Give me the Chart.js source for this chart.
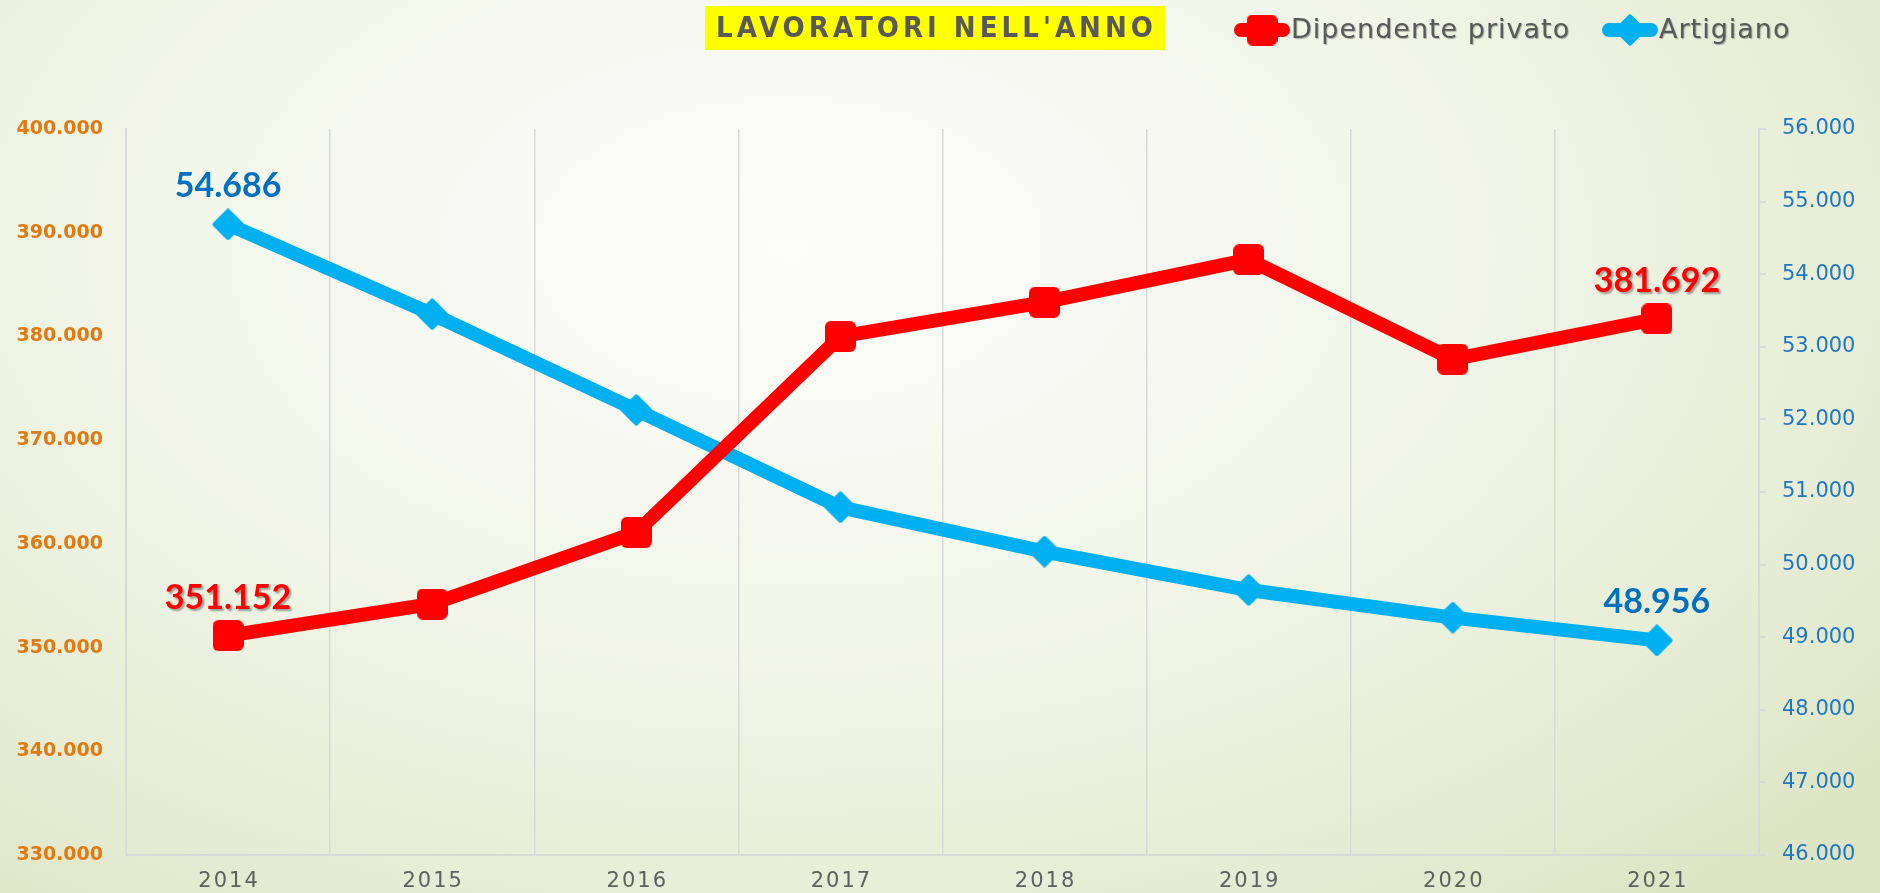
<!DOCTYPE html>
<html>
<head>
<meta charset="utf-8">
<script src="https://cdn.jsdelivr.net/npm/chart.js@4.4.0/dist/chart.umd.min.js"></script>
<style>
  html, body { margin: 0; padding: 0; }
  body {
    width: 1880px; height: 893px; overflow: hidden;
    background: radial-gradient(ellipse 75% 95% at 42% 28%, #fdfdfa 0%, #f3f6ea 45%, #e6ecd4 80%, #dde5c4 100%);
  }
  #wrap { position: relative; width: 1880px; height: 893px; }
</style>
</head>
<body>
<div id="wrap"><canvas id="myChart"></canvas></div>
<script>
// dati
const anni = ["2014", "2015", "2016", "2017", "2018", "2019", "2020", "2021"];
const dipendentePrivato = [351152, 354200, 361100, 380000, 383300, 387400, 377800, 381692];
const artigiano = [54686, 53450, 52130, 50790, 50180, 49650, 49270, 48956];
const tickSinistra = [330000, 340000, 350000, 360000, 370000, 380000, 390000, 400000];
const tickDestra = [46000, 47000, 48000, 49000, 50000, 51000, 52000, 53000, 54000, 55000, 56000];

const titolo = "LAVORATORI NELL'ANNO";
const rosso = "#ff0000";
const azzurro = "#00b0f0";

function formatta(n) {
  return String(Math.round(n)).replace(/\B(?=(\d{3})+(?!\d))/g, ".");
}

// marcatori: quadrato arrotondato e rombo
function quadrato(lato, col) {
  const c = document.createElement("canvas");
  c.width = lato; c.height = lato;
  const g = c.getContext("2d");
  g.fillStyle = col;
  g.beginPath();
  g.roundRect(0, 0, lato, lato, 6);
  g.fill();
  return c;
}
function rombo(lato, col) {
  const c = document.createElement("canvas");
  c.width = lato; c.height = lato;
  const g = c.getContext("2d");
  const m = lato / 2;
  g.fillStyle = col;
  g.strokeStyle = col;
  g.lineJoin = "round";
  g.lineWidth = 5;
  g.beginPath();
  g.moveTo(m, 3); g.lineTo(lato - 3, m); g.lineTo(m, lato - 3); g.lineTo(3, m);
  g.closePath();
  g.fill(); g.stroke();
  return c;
}
const marcaRossa = quadrato(31, rosso);
const marcaAzzurra = rombo(32, azzurro);

// etichette solo sul primo e ultimo punto
const etichettePlugin = {
  id: "etichette",
  afterDatasetsDraw(chart) {
    const ctx = chart.ctx;
    const colori = [rosso, "#0070c0"];
    chart.data.datasets.forEach(function(ds, i) {
      const meta = chart.getDatasetMeta(i);
      [0, ds.data.length - 1].forEach(function(j) {
        const p = meta.data[j];
        ctx.save();
        ctx.font = "bold 34px Lato, sans-serif";
        ctx.fillStyle = colori[i];
        ctx.textAlign = "center";
        ctx.textBaseline = "middle";
        if (i == 0) {
          ctx.shadowColor = "rgba(0,0,0,0.35)";
          ctx.shadowOffsetX = 2;
          ctx.shadowOffsetY = 2;
          ctx.shadowBlur = 2;
        }
        ctx.fillText(formatta(ds.data[j]), p.x, p.y - 38);
        ctx.restore();
      });
    });
  }
};

// etichette dell'asse x spaziate
const anniPlugin = {
  id: "anni",
  afterDraw(chart) {
    const ctx = chart.ctx;
    const sc = chart.scales.x;
    ctx.save();
    ctx.font = "21px 'DejaVu Sans', sans-serif";
    ctx.letterSpacing = "2px";
    ctx.fillStyle = "#5f5f5f";
    ctx.textAlign = "center";
    ctx.textBaseline = "middle";
    sc.ticks.forEach(function(t, i) {
      ctx.fillText(chart.data.labels[i], sc.getPixelForTick(i) + 1, 882);
    });
    ctx.restore();
  }
};

// titolo con sfondo giallo e legenda
const testataPlugin = {
  id: "testata",
  afterDraw(chart) {
    const ctx = chart.ctx;
    ctx.save();
    ctx.fillStyle = "#ffff00";
    ctx.fillRect(705, 6, 460, 44);
    ctx.font = "bold 29px 'Liberation Sans Narrow', 'DejaVu Sans Condensed', sans-serif";
    const w = ctx.measureText(titolo).width;
    const sp = Math.max(0, (437 - w) / (titolo.length - 1));
    ctx.letterSpacing = sp + "px";
    ctx.fillStyle = "#595959";
    ctx.textAlign = "left";
    ctx.textBaseline = "middle";
    ctx.fillText(titolo, 716, 29);
    ctx.restore();

    const voci = [
      { x: 1235, ds: chart.data.datasets[0] },
      { x: 1603, ds: chart.data.datasets[1] }
    ];
    voci.forEach(function(v) {
      ctx.save();
      ctx.strokeStyle = v.ds.borderColor;
      ctx.lineWidth = 14;
      ctx.lineCap = "round";
      ctx.beginPath();
      ctx.moveTo(v.x + 6, 30);
      ctx.lineTo(v.x + 48, 30);
      ctx.stroke();
      const img = v.ds.pointStyle;
      ctx.drawImage(img, v.x + 27 - img.width / 2, 30 - img.height / 2);
      ctx.font = "27px 'DejaVu Sans', sans-serif";
      ctx.letterSpacing = "1px";
      ctx.fillStyle = "#595959";
      ctx.textBaseline = "middle";
      ctx.shadowColor = "rgba(0,0,0,0.3)";
      ctx.shadowOffsetX = 1;
      ctx.shadowOffsetY = 1;
      ctx.shadowBlur = 1;
      ctx.fillText(v.ds.label, v.x + 56, 31);
      ctx.restore();
    });
  }
};

const ctx = document.getElementById("myChart").getContext("2d");
const myChart = new Chart(ctx, {
  type: "line",
  data: {
    labels: anni,
    datasets: [
      {
        label: "Dipendente privato",
        data: dipendentePrivato,
        yAxisID: "ySx",
        borderColor: rosso,
        backgroundColor: rosso,
        borderWidth: 14,
        pointStyle: marcaRossa,
        pointRadius: 16,
        tension: 0
      },
      {
        label: "Artigiano",
        data: artigiano,
        yAxisID: "yDx",
        borderColor: azzurro,
        backgroundColor: azzurro,
        borderWidth: 14,
        pointStyle: marcaAzzurra,
        pointRadius: 16,
        tension: 0
      }
    ]
  },
  options: {
    responsive: true,
    maintainAspectRatio: false,
    animation: false,
    layout: { padding: { top: 129, left: 0, right: 0, bottom: 0 } },
    plugins: {
      legend: { display: false },
      title: { display: false },
      tooltip: { enabled: false }
    },
    scales: {
      x: {
        offset: true,
        grid: { offset: true, color: "#d9d9d9", lineWidth: 1.5, drawTicks: false },
        border: { color: "#d9d9d9", width: 2 },
        ticks: { color: "rgba(0,0,0,0)", padding: 14, font: { size: 21 } },
        afterFit(scale) { scale.height = 38; }
      },
      ySx: {
        position: "left",
        min: 330000,
        max: 400000,
        grid: { drawOnChartArea: false, drawTicks: false },
        border: { color: "#d9d9d9", width: 2 },
        afterBuildTicks(scale) { scale.ticks = tickSinistra.map(function(v) { return { value: v }; }); },
        ticks: {
          color: "#e27a12",
          padding: 23,
          font: { family: "'DejaVu Sans', sans-serif", size: 19, weight: "bold" },
          callback: function(v) { return formatta(v); }
        },
        afterFit(scale) { scale.width = 126; }
      },
      yDx: {
        position: "right",
        min: 46000,
        max: 56000,
        grid: { drawOnChartArea: false, drawTicks: true, tickLength: 7, color: "#d9d9d9", lineWidth: 2 },
        border: { color: "#d9d9d9", width: 2 },
        afterBuildTicks(scale) { scale.ticks = tickDestra.map(function(v) { return { value: v }; }); },
        ticks: {
          color: "#1f77c4",
          padding: 16,
          font: { family: "'DejaVu Sans', sans-serif", size: 21 },
          callback: function(v) { return formatta(v); }
        },
        afterFit(scale) { scale.width = 121; }
      }
    }
  },
  plugins: [etichettePlugin, anniPlugin, testataPlugin]
});
</script>
</body>
</html>
